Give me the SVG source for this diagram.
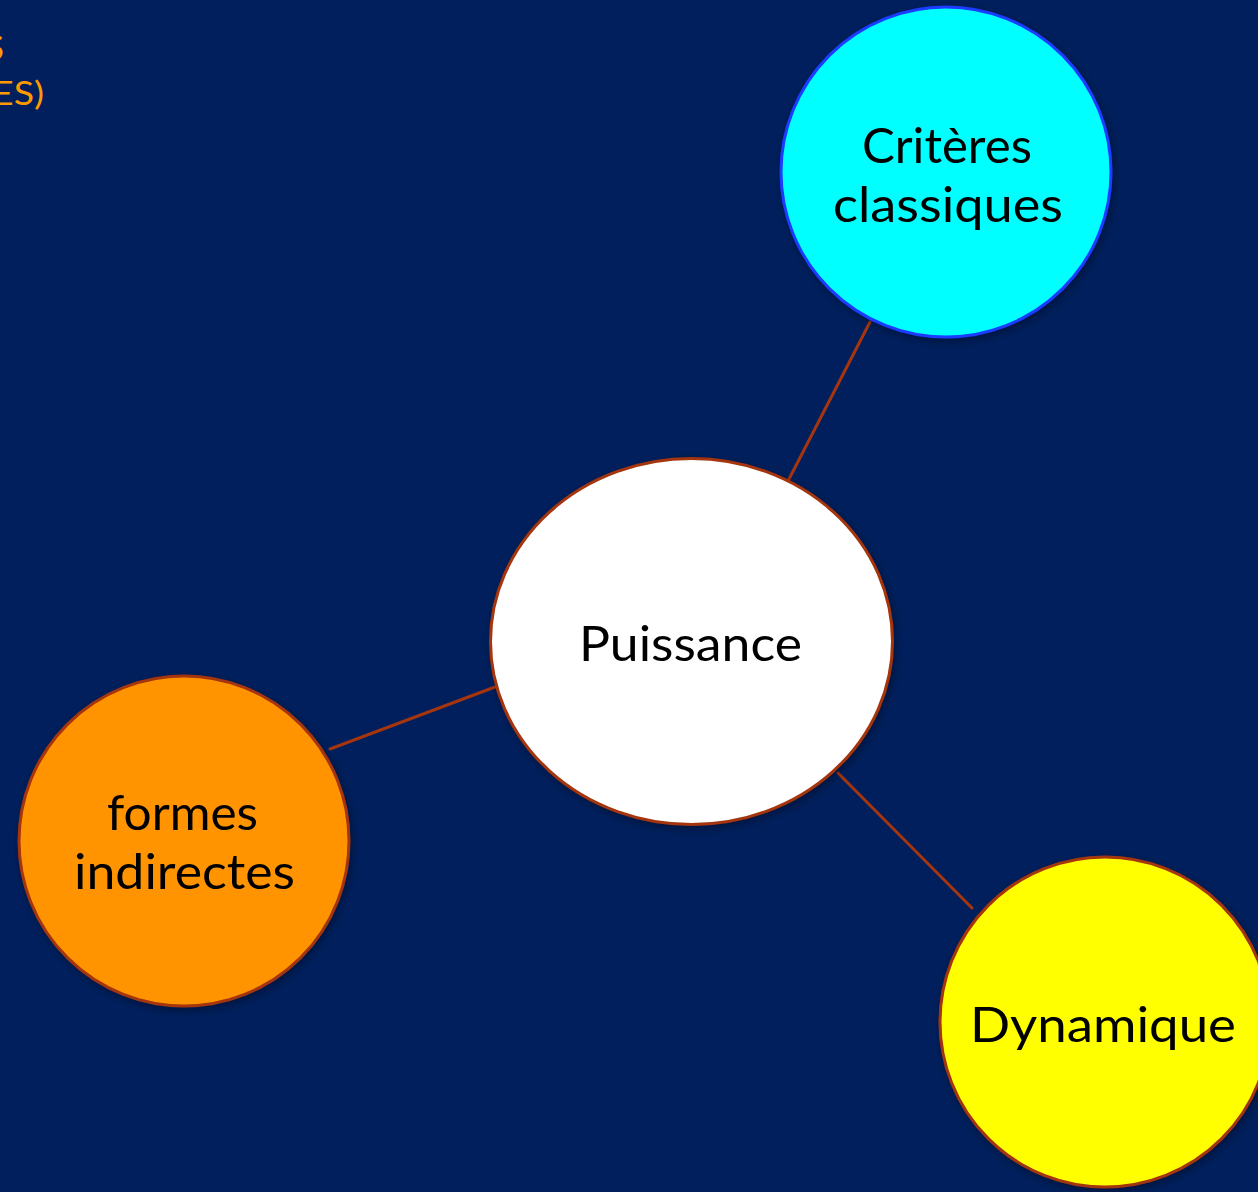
<svg xmlns="http://www.w3.org/2000/svg" width="1258" height="1192" viewBox="0 0 1258 1192">
<defs>
<filter id="sh" x="-10%" y="-10%" width="120%" height="120%">
<feDropShadow dx="2" dy="3" stdDeviation="4" flood-color="#000000" flood-opacity="0.35"/>
</filter>
<style>
.lbl{font-family:"Lato","DejaVu Sans","Liberation Sans",sans-serif;font-weight:400;font-size:48px;fill:#000000;text-anchor:middle}
.ttl{font-family:"Lato","DejaVu Sans","Liberation Sans",sans-serif;font-weight:400;fill:#FF9900;text-anchor:end}
.con{stroke:#A5350F;stroke-width:3;fill:none;stroke-linecap:round}
.node{stroke-width:3;filter:url(#sh)}
</style>
</defs>
<rect x="0" y="0" width="1258" height="1192" fill="#001F5C"/>
<g id="title">
<text class="ttl" x="4" y="60" font-size="34">S</text>
<text class="ttl" x="44" y="105" font-size="32" textLength="52" lengthAdjust="spacingAndGlyphs">ES)</text>
</g>
<g id="connectors">
<line class="con" x1="870" y1="322" x2="787" y2="483"/>
<line class="con" x1="330" y1="749" x2="495" y2="687"/>
<line class="con" x1="838" y1="773" x2="972" y2="908"/>
</g>
<g id="node-criteres">
<circle class="node" cx="946" cy="172" r="165" fill="#00FFFF" stroke="#1A3CFF"/>
<text class="lbl" x="947" y="163" textLength="170" lengthAdjust="spacingAndGlyphs">Critères</text>
<text class="lbl" x="948" y="222" textLength="230" lengthAdjust="spacingAndGlyphs">classiques</text>
</g>
<g id="node-puissance">
<ellipse class="node" cx="691.5" cy="641.5" rx="201" ry="183" fill="#FFFFFF" stroke="#A5350F"/>
<text class="lbl" x="690.5" y="661" textLength="223" lengthAdjust="spacingAndGlyphs">Puissance</text>
</g>
<g id="node-formes">
<circle class="node" cx="184" cy="841" r="165" fill="#FF9400" stroke="#A5350F"/>
<text class="lbl" x="182.5" y="830" textLength="151" lengthAdjust="spacingAndGlyphs">formes</text>
<text class="lbl" x="184.5" y="889" textLength="221" lengthAdjust="spacingAndGlyphs">indirectes</text>
</g>
<g id="node-dynamique">
<circle class="node" cx="1105" cy="1022" r="165" fill="#FFFF00" stroke="#A5350F"/>
<text class="lbl" x="1103" y="1042" textLength="266" lengthAdjust="spacingAndGlyphs">Dynamique</text>
</g>
</svg>
